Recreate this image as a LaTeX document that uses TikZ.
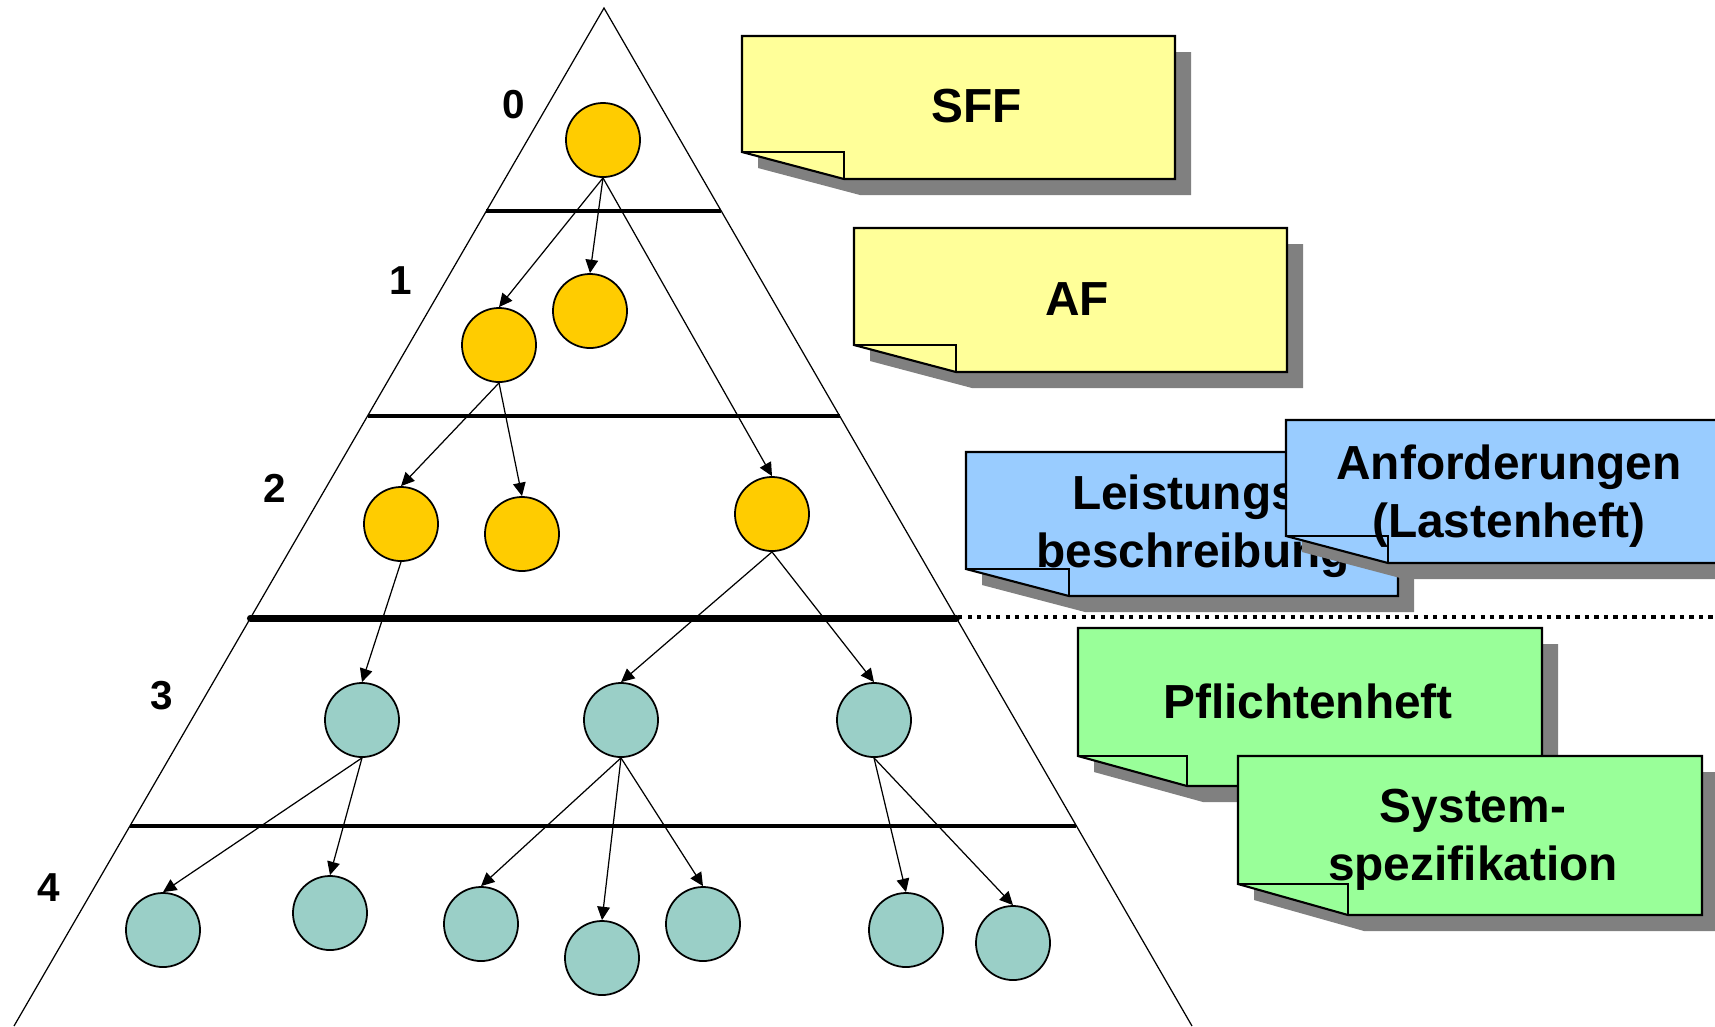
\documentclass[tikz,border=0pt]{standalone}
\usepackage{fontspec}
\setmainfont{Liberation Sans}
\usepackage{tikz}
\usetikzlibrary{arrows.meta,calc}

\definecolor{gold}{RGB}{255,204,0}
\definecolor{leaf}{RGB}{154,207,199}
\definecolor{paleyellow}{RGB}{255,255,153}
\definecolor{paleblue}{RGB}{153,204,255}
\definecolor{palegreen}{RGB}{153,255,153}
\definecolor{shadowgrey}{RGB}{128,128,128}

\tikzset{
	knot/.style={circle,draw,line width=0.5pt,minimum size=0.74cm,inner sep=0pt},
	upper/.style={knot,fill=gold},
	lower/.style={knot,fill=leaf},
	link/.style={-{Triangle[length=3.8pt,width=3.6pt]},line width=0.35pt},
	layer/.style={line width=0.9pt},
	levelno/.style={font=\fontsize{11.5}{11.5}\selectfont\bfseries},
	notetext/.style={font=\fontsize{13.6}{16.6}\selectfont\bfseries,align=center}
}

% left, top, right, bottom, fold x, fold y, colour
\newcommand{\papernote}[7]{
	\fill[shadowgrey,shift={(16,16)}] (#1,#2) -- (#3,#2) -- (#3,#4) -- (#5,#4) -- (#1,#6) -- cycle;
	\filldraw[fill=#7,line width=0.6pt] (#1,#2) -- (#3,#2) -- (#3,#4) -- (#5,#4) -- (#1,#6) -- cycle;
	\draw[line width=0.6pt] (#1,#6) -- (#5,#6) -- (#5,#4);
}

\begin{document}
\begin{tikzpicture}[x=0.01cm,y=-0.01cm]

\useasboundingbox (0,0) rectangle (1715,1026);

\coordinate (apex) at (604,8);
\coordinate (bl) at (14,1026);
\coordinate (br) at (1192,1026);

\draw[line width=0.35pt] (bl) -- (apex) -- (br);

\foreach \y in {211,416,826} %layers
	\draw[layer] ($(apex)!{(\y-8)/1018}!(bl)$) -- ($(apex)!{(\y-8)/1018}!(br)$);

\draw[line width=1.2pt,dash pattern=on 1.2pt off 1.5pt] (512,617) -- (1715,617);
\draw[line width=2pt,line cap=round] ($(apex)!{610/1018}!(bl)$) -- ($(apex)!{610/1018}!(br)$);

\node[levelno] (l0) at (514,105) {0};
\node[levelno] (l1) at (401,281) {1};
\node[levelno] (l2) at (275,488) {2};
\node[levelno] (l3) at (162,696) {3};
\node[levelno] (l4) at (49,888) {4};

\node[upper] (n0) at (603,140) {};
\node[upper] (n1a) at (499,345) {};
\node[upper] (n1b) at (590,311) {};
\node[upper] (n2a) at (401,524) {};
\node[upper] (n2b) at (522,534) {};
\node[upper] (n2c) at (772,514) {};

\node[lower] (n3a) at (362,720) {};
\node[lower] (n3b) at (621,720) {};
\node[lower] (n3c) at (874,720) {};
\node[lower] (n4a) at (163,930) {};
\node[lower] (n4b) at (330,913) {};
\node[lower] (n4c) at (481,924) {};
\node[lower] (n4d) at (602,958) {};
\node[lower] (n4e) at (703,924) {};
\node[lower] (n4f) at (906,930) {};
\node[lower] (n4g) at (1013,943) {};

\foreach \a/\b in {n0/n1a,n0/n1b,n0/n2c,n1a/n2a,n1a/n2b,n2a/n3a,n2c/n3b,n2c/n3c,
	n3a/n4a,n3a/n4b,n3b/n4c,n3b/n4d,n3b/n4e,n3c/n4f,n3c/n4g}
	\draw[link] (\a.south) -- (\b.north);

\papernote{742}{36}{1175}{179}{844}{152}{paleyellow}
\node[notetext] (sff) at (977,106) {SFF};

\papernote{854}{228}{1287}{372}{956}{345}{paleyellow}
\node[notetext] (af) at (1077,299) {AF};

\papernote{966}{452}{1398}{596}{1069}{569}{paleblue}
\node[notetext] (lb) at (1193,526) {Leistungs-\\beschreibung};

\papernote{1286}{420}{1719}{563}{1388}{536}{paleblue}
\node[notetext] (lh) at (1509,496) {Anforderungen\\(Lastenheft)};

\papernote{1078}{628}{1542}{786}{1187}{756}{palegreen}
\node[notetext] (ph) at (1308,701) {Pflichtenheft};

\papernote{1238}{756}{1702}{915}{1348}{884}{palegreen}
\node[notetext] (ss) at (1473,840) {System-\\spezifikation};

\end{tikzpicture}
\end{document}
